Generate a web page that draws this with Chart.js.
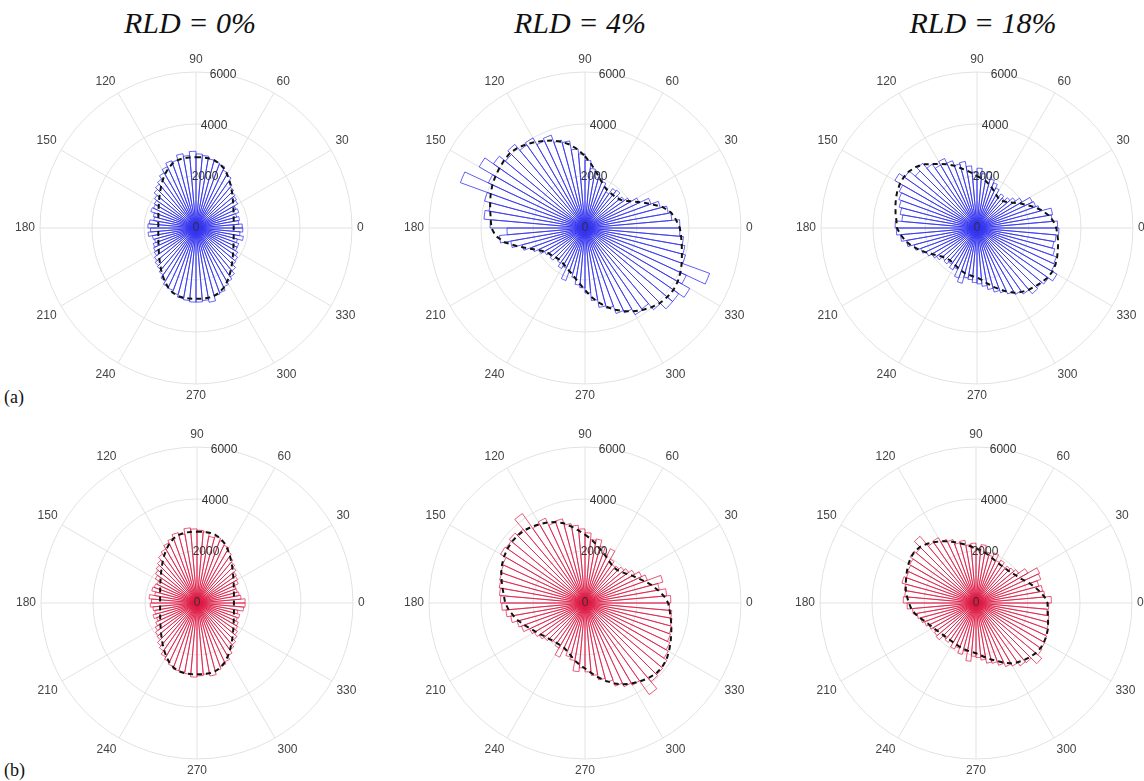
<!DOCTYPE html>
<html>
<head>
<meta charset="utf-8">
<script src="https://cdn.jsdelivr.net/npm/chart.js@4.4.1/dist/chart.umd.min.js"></script>
<style>
html,body{margin:0;padding:0;width:1144px;height:781px;overflow:hidden;background:#fff;}
body{position:relative;}
canvas{position:absolute;}
.title{position:absolute;width:300px;text-align:center;font:italic 30px 'Liberation Serif',serif;line-height:30px;color:#111;}
.row{position:absolute;left:4px;font:18px 'Liberation Serif',serif;line-height:20px;color:#111;}
</style>
</head>
<body>
<div class="title" style="left:40px;top:8px;">RLD = 0%</div>
<div class="title" style="left:430px;top:8px;">RLD = 4%</div>
<div class="title" style="left:833px;top:8px;">RLD = 18%</div>
<div class="row" style="top:387px;">(a)</div>
<div class="row" style="top:760px;">(b)</div>
<canvas id="a0" width="362" height="362" style="left:9px;top:47px;"></canvas>
<canvas id="a4" width="362" height="362" style="left:398px;top:47px;"></canvas>
<canvas id="a18" width="362" height="362" style="left:790px;top:47px;"></canvas>
<canvas id="b0" width="362" height="362" style="left:10px;top:422px;"></canvas>
<canvas id="b4" width="362" height="362" style="left:398px;top:422px;"></canvas>
<canvas id="b18" width="362" height="362" style="left:789px;top:422px;"></canvas>
<script>
// Angular bins (bin centres, degrees, counter-clockwise from 0 = east)
const binCenters = [2.5,7.5,12.5,17.5,22.5,27.5,32.5,37.5,42.5,47.5,52.5,57.5,62.5,67.5,72.5,77.5,82.5,87.5,
  92.5,97.5,102.5,107.5,112.5,117.5,122.5,127.5,132.5,137.5,142.5,147.5,152.5,157.5,162.5,167.5,172.5,177.5,
  182.5,187.5,192.5,197.5,202.5,207.5,212.5,217.5,222.5,227.5,232.5,237.5,242.5,247.5,252.5,257.5,262.5,267.5,
  272.5,277.5,282.5,287.5,292.5,297.5,302.5,307.5,312.5,317.5,322.5,327.5,332.5,337.5,342.5,347.5,352.5,357.5];
// Angles at which the dashed envelope is sampled (bin edges)
const envAngles = [0,5,10,15,20,25,30,35,40,45,50,55,60,65,70,75,80,85,
  90,95,100,105,110,115,120,125,130,135,140,145,150,155,160,165,170,175,
  180,185,190,195,200,205,210,215,220,225,230,235,240,245,250,255,260,265,
  270,275,280,285,290,295,300,305,310,315,320,325,330,335,340,345,350,355];
const angleTickLabels = [0,30,60,90,120,150,180,210,240,270,300,330];
const rTickLabels = [0,2000,4000,6000];

// (a) blue histograms
const countsA0 = [1780,1650,1700,1620,1750,1700,1850,1900,1950,2050,2150,2350,2450,2600,2650,2700,2800,2850,
  2950,2800,2900,2700,2750,2600,2450,2300,2200,2100,1950,1850,1800,1850,1700,1650,1800,1850,
  1750,1850,1700,1650,1750,1800,1850,1950,2050,2100,2200,2350,2500,2550,2650,2750,2800,2850,
  2850,2800,2900,2700,2650,2500,2400,2300,2150,2000,1950,1850,1750,1750,1650,1850,1700,1800];
const envA0 = [1450,1456,1472,1500,1539,1592,1658,1740,1840,1956,2091,2238,2390,2529,2640,2706,2729,2727,
  2720,2727,2729,2706,2640,2529,2390,2238,2091,1956,1840,1740,1658,1592,1539,1500,1472,1456,
  1450,1456,1472,1500,1539,1592,1658,1740,1840,1956,2091,2238,2390,2529,2640,2706,2729,2727,
  2720,2727,2729,2706,2640,2529,2390,2238,2091,1956,1840,1740,1658,1592,1539,1500,1472,1456];
const countsA4 = [3650,3350,3250,3000,2700,2300,2000,1850,1750,1900,1850,1600,1750,1900,2000,2200,2300,2600,
  2850,3050,3400,3500,3800,3700,4000,3900,4200,4000,4300,4700,4100,5100,4000,3750,3900,3650,
  3000,3300,2900,2500,2150,1950,1800,1700,1750,1550,1650,1800,1700,2150,1800,1950,2200,2300,
  2500,2800,3100,3200,3500,3600,3850,3800,4100,4400,4400,4650,4300,5100,4000,3900,3800,3650];
const envA4 = [3650,3520,3370,3100,2700,2350,2050,1820,1720,1680,1660,1670,1690,1760,1880,2050,2250,2500,
  2760,3020,3250,3430,3580,3700,3820,3930,4030,4080,4060,4020,3980,3930,3860,3780,3700,3640,
  3600,3450,3150,2700,2300,2000,1800,1700,1650,1600,1570,1580,1620,1680,1760,1860,2000,2170,
  2380,2650,2900,3130,3350,3530,3700,3850,3980,4080,4130,4150,4120,4050,3960,3860,3780,3710];
const countsA18 = [3100,2900,2950,2500,2400,2350,2000,1800,1650,1500,1600,1450,1700,1850,1950,2200,2100,2300,
  2150,2400,2600,2550,2750,2950,2800,3000,3250,3100,3400,3650,3300,3200,3100,3000,2900,3150,
  3100,2950,2750,2500,2300,2150,2000,1900,1750,1800,1700,1850,1750,2050,2200,1950,2000,2100,
  2150,2250,2400,2550,2650,2800,2950,3100,3300,3250,3350,3550,3300,3250,3100,3000,3050,3150];
const envA18 = [3050,2950,2800,2600,2350,2100,1900,1700,1550,1450,1400,1420,1480,1560,1650,1750,1850,1920,
  2000,2120,2250,2380,2550,2700,2850,3000,3200,3320,3400,3430,3420,3380,3320,3250,3180,3110,
  3080,2950,2800,2620,2400,2200,2000,1850,1720,1650,1620,1630,1660,1700,1750,1800,1830,1860,
  1900,2000,2150,2330,2500,2700,2880,3000,3100,3170,3250,3320,3350,3330,3280,3220,3170,3110];

// (b) red histograms
const countsB0 = [1850,1700,1650,1600,1600,1750,1800,1850,1950,2050,2150,2300,2450,2550,2650,2600,2750,2800,
  2850,2900,2700,2800,2650,2550,2400,2300,2150,2050,1950,1850,1700,1750,1800,1650,1850,1750,
  1800,1700,1650,1750,1650,1750,1850,1950,2000,2150,2250,2400,2500,2600,2700,2700,2750,2850,
  2800,2750,2850,2700,2600,2500,2350,2200,2100,2000,1900,1800,1750,1650,1700,1600,1800,1850];
const envB0 = [1420,1425,1442,1469,1508,1560,1625,1706,1806,1923,2058,2210,2369,2519,2641,2717,2747,2746,
  2740,2746,2747,2717,2641,2519,2369,2210,2058,1923,1806,1706,1625,1560,1508,1469,1442,1425,
  1420,1425,1442,1469,1508,1560,1625,1706,1806,1923,2058,2210,2369,2519,2641,2717,2747,2746,
  2740,2746,2747,2717,2641,2519,2369,2210,2058,1923,1806,1706,1625,1560,1508,1469,1442,1425];
const countsB4 = [3300,3150,2900,3100,2550,2400,2200,2050,1950,1850,1800,1950,2300,2050,2250,2500,2450,2700,
  2850,3000,3100,3350,3300,3600,3500,4200,3700,3800,3700,3750,3500,3450,3400,3350,3300,3250,
  3200,3050,2900,2700,2600,2350,2250,2150,2050,1950,1900,2000,2300,1950,2150,2250,2650,2500,
  2650,2800,3000,3150,3400,3550,3650,4300,3950,3900,3850,3700,3600,3500,3450,3400,3350,3250];
const envB4 = [3200,3050,2850,2650,2450,2250,2100,1950,1850,1780,1760,1790,1860,1950,2050,2170,2320,2480,
  2630,2800,2980,3180,3320,3420,3500,3580,3640,3670,3670,3640,3590,3520,3430,3320,3220,3130,
  3070,2950,2800,2650,2480,2320,2200,2100,2000,1950,1900,1880,1880,1900,1980,2100,2250,2380,
  2520,2700,2900,3100,3300,3450,3580,3680,3780,3850,3860,3820,3730,3630,3530,3440,3350,3270];
const countsB18 = [2900,2650,2600,2500,2650,2700,2300,2000,1900,1850,1750,1900,1800,2050,1900,2000,2250,2100,
  2300,2250,2450,2400,2600,2700,2900,2850,3350,3000,3100,2950,2900,2850,2950,2800,2750,2800,
  2650,2450,2300,2200,2100,2000,1900,1950,2000,1800,1850,1750,1950,1850,2050,1900,2250,2050,
  2100,2200,2350,2400,2550,2700,2800,2950,3000,3300,3100,3050,3000,2950,2900,2850,2750,2800];
const envB18 = [2750,2650,2500,2350,2200,2050,1930,1860,1800,1760,1740,1740,1750,1780,1830,1900,1970,2030,
  2090,2180,2280,2380,2500,2620,2740,2850,2960,3050,3080,3060,3000,2930,2860,2800,2740,2660,
  2580,2500,2380,2230,2080,1980,1900,1840,1790,1760,1740,1740,1750,1770,1800,1830,1860,1890,
  1930,2020,2130,2250,2380,2530,2680,2780,2870,2940,3000,3030,3020,2990,2940,2870,2810,2770];

const blueEdge = 'rgba(50,50,240,0.78)', blueFill = 'rgba(0,0,0,0)';
const redEdge = 'rgba(222,24,66,0.72)', redFill = 'rgba(0,0,0,0)';

const rTickPlugin = {
  id: 'rTickText',
  afterDatasetsDraw(chart) {
    const s = chart.scales.r, ctx = chart.ctx;
    ctx.save();
    ctx.font = '12px "Liberation Sans", Arial, sans-serif';
    ctx.fillStyle = '#333';
    ctx.textAlign = 'center';
    ctx.textBaseline = 'middle';
    s.ticks.forEach(t => {
      const p = s.getPointPositionForValue(2, t.value); // r-axis along 80°
      ctx.fillText(t.label, p.x, p.y);
    });
    ctx.restore();
  }
};

function makePanel(id, counts, env, edge, fill) {
  const n = binCenters.length;
  const labels = [], bars = [], envData = [];
  for (let j = 0; j < n; j++) {
    const k = (17 - j + n) % n;   // bin whose range starts at the j-th clockwise step from north
    const m = (18 - j + n) % n;   // envelope sample at the j-th clockwise step from north
    labels.push(String(envAngles[m]));
    bars.push(counts[k]);
    envData.push(env[m]);
  }
  new Chart(document.getElementById(id), {
    type: 'polarArea',
    data: {
      labels: labels,
      datasets: [
        { type: 'polarArea', data: bars, backgroundColor: fill, borderColor: edge, borderWidth: 1, order: 1 },
        { type: 'radar', data: envData, borderColor: '#111', borderWidth: 2, borderDash: [5, 4],
          pointRadius: 0, pointHoverRadius: 0, fill: false, tension: 0, order: 0 }
      ]
    },
    options: {
      responsive: false,
      animation: false,
      events: [],
      layout: { padding: 0 },
      plugins: { legend: false, tooltip: false },
      scales: {
        r: {
          type: 'radialLinear',
          min: 0, max: 6000, startAngle: 0, beginAtZero: true,
          afterBuildTicks: (s) => { s.ticks = rTickLabels.map(v => ({ value: v })); },
          ticks: { display: false, callback: (v) => String(v) },
          grid: { circular: true, color: '#e2e2e2', lineWidth: 1 },
          angleLines: { display: true, color: '#e2e2e2', lineWidth: (c) => (c.index % 6 === 0 ? 1 : 0) },
          pointLabels: {
            display: true, padding: 5, color: '#444',
            font: { family: "'Liberation Sans', Arial, sans-serif", size: 12 },
            callback: (lbl, idx) => (angleTickLabels.includes(Number(lbl)) && idx % 6 === 0 ? lbl : '')
          }
        }
      }
    },
    plugins: [rTickPlugin]
  });
}

makePanel('a0', countsA0, envA0, blueEdge, blueFill);
makePanel('a4', countsA4, envA4, blueEdge, blueFill);
makePanel('a18', countsA18, envA18, blueEdge, blueFill);
makePanel('b0', countsB0, envB0, redEdge, redFill);
makePanel('b4', countsB4, envB4, redEdge, redFill);
makePanel('b18', countsB18, envB18, redEdge, redFill);
</script>
</body>
</html>
